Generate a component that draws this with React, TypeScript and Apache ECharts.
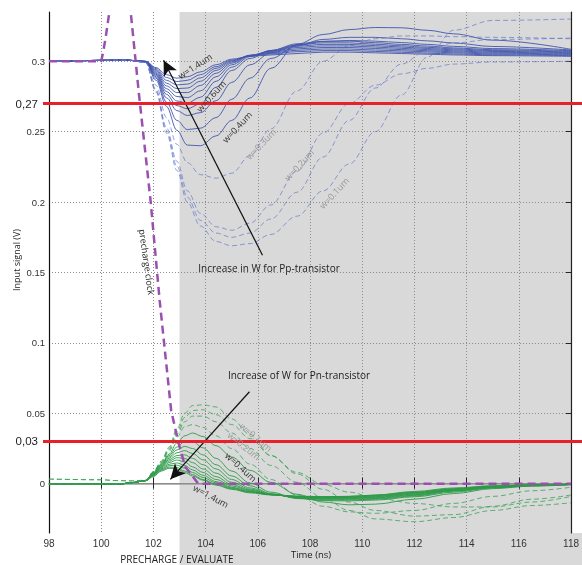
import React, { useEffect, useRef } from "react";
import * as echarts from "echarts";

// ---------- data ----------
const xMin = 98;
const xMax = 118;
const yMin = -0.035;
const yMax = 0.335;
const yTicks = [0, 0.05, 0.1, 0.15, 0.2, 0.25, 0.3];
const thresholds = [0.27, 0.03];
const thresholdLabels = ["0,27", "0,03"];
const evaluateStart = 103;

// precharge clock
const tClock = [98, 100, 100.08, 100.18, 100.32, 100.55, 101.0, 101.13, 101.45, 101.89, 102.24, 102.68, 102.96, 103.22, 103.72, 118];
const vClock = [0.3, 0.3, 0.307, 0.318, 0.336, 0.37, 0.357, 0.335, 0.276, 0.2013, 0.13, 0.052, 0.029, 0.012, 0, 0];

// Pp-transistor (blue) responses
const tB = [98, 101, 101.7, 102.1, 102.5, 102.9, 103.3, 103.8, 104.4, 105, 105.7, 106.5, 107.5, 108.5, 109.5, 110.5, 111.5, 112.5, 113.5, 115, 118];
const pp14 = [0.3, 0.3008, 0.3, 0.2955, 0.2905, 0.288, 0.289, 0.2925, 0.2975, 0.3015, 0.3035, 0.3045, 0.3055, 0.3065, 0.3065, 0.306, 0.3055, 0.305, 0.3045, 0.304, 0.3035];
const pp13 = [0.3, 0.3008, 0.3, 0.2948, 0.2885, 0.2856, 0.2865, 0.2905, 0.2962, 0.3008, 0.3038, 0.3052, 0.3068, 0.3076, 0.3076, 0.307, 0.3064, 0.3058, 0.3052, 0.3046, 0.304];
const pp12 = [0.3, 0.3008, 0.2999, 0.294, 0.2865, 0.2832, 0.2838, 0.2882, 0.295, 0.3002, 0.304, 0.3058, 0.3078, 0.3087, 0.3087, 0.308, 0.3074, 0.3067, 0.306, 0.3052, 0.3045];
const pp11 = [0.3, 0.3008, 0.2999, 0.2932, 0.2845, 0.2806, 0.281, 0.2858, 0.2935, 0.2995, 0.3042, 0.3064, 0.3088, 0.3098, 0.3098, 0.3091, 0.3083, 0.3075, 0.3067, 0.3058, 0.305];
const pp10 = [0.3, 0.3008, 0.2998, 0.2924, 0.2825, 0.2778, 0.2778, 0.2828, 0.2915, 0.2987, 0.3043, 0.3069, 0.3098, 0.3109, 0.3109, 0.3101, 0.3092, 0.3083, 0.3074, 0.3064, 0.3055];
const pp09 = [0.3, 0.3008, 0.2998, 0.2916, 0.2805, 0.275, 0.2742, 0.279, 0.289, 0.2975, 0.304, 0.3073, 0.3107, 0.312, 0.312, 0.3111, 0.3101, 0.3091, 0.3081, 0.307, 0.306];
const pp08 = [0.3, 0.3008, 0.2997, 0.2908, 0.2785, 0.2718, 0.2703, 0.2745, 0.2858, 0.2958, 0.3033, 0.3076, 0.3116, 0.3131, 0.3131, 0.3121, 0.311, 0.3099, 0.3088, 0.3076, 0.3065];
const pp07 = [0.3, 0.3008, 0.2997, 0.29, 0.2765, 0.2685, 0.2663, 0.2698, 0.2815, 0.2935, 0.302, 0.3077, 0.3124, 0.3142, 0.3143, 0.3132, 0.312, 0.3108, 0.3095, 0.3082, 0.307];
const pp06 = [0.3, 0.3008, 0.2996, 0.289, 0.274, 0.265, 0.2615, 0.2635, 0.272, 0.285, 0.2975, 0.306, 0.3115, 0.314, 0.3148, 0.3143, 0.3133, 0.312, 0.3106, 0.309, 0.3075];
const pp05 = [0.3, 0.3008, 0.2995, 0.288, 0.271, 0.258, 0.2515, 0.2525, 0.26, 0.273, 0.288, 0.302, 0.311, 0.3155, 0.317, 0.317, 0.316, 0.3145, 0.313, 0.3105, 0.308];
const pp04 = [0.3, 0.3008, 0.2994, 0.2865, 0.268, 0.251, 0.2405, 0.24, 0.247, 0.258, 0.274, 0.295, 0.312, 0.319, 0.3225, 0.324, 0.3238, 0.322, 0.3195, 0.315, 0.3085];
const pp03 = [0.3, 0.3008, 0.2993, 0.283, 0.26, 0.241, 0.228, 0.2195, 0.217, 0.2205, 0.233, 0.252, 0.279, 0.3, 0.311, 0.316, 0.318, 0.318, 0.3175, 0.317, 0.316];
const pp02 = [0.3, 0.3008, 0.2992, 0.28, 0.253, 0.229, 0.208, 0.192, 0.1825, 0.18, 0.185, 0.198, 0.222, 0.249, 0.27, 0.283, 0.291, 0.295, 0.298, 0.2995, 0.3];
const pp015 = [0.3, 0.3008, 0.2992, 0.279, 0.251, 0.2255, 0.2035, 0.187, 0.178, 0.175, 0.178, 0.188, 0.207, 0.232, 0.258, 0.281, 0.298, 0.308, 0.313, 0.3155, 0.3165];
const pp01 = [0.3, 0.3008, 0.2992, 0.278, 0.249, 0.2225, 0.2, 0.183, 0.172, 0.169, 0.1705, 0.177, 0.19, 0.208, 0.227, 0.25, 0.276, 0.303, 0.322, 0.329, 0.33];

// Pn-transistor (green) responses
const tG = [98, 100, 100.6, 101.2, 101.7, 102, 102.3, 102.6, 102.9, 103.2, 103.5, 103.9, 104.4, 105, 105.7, 106.5, 107.5, 108.5, 109.5, 110.5, 112, 113.5, 115, 116.5, 118];
const pn14 = [0, 0, -0.0005, 0.0008, 0.0022, 0.005, 0.009, 0.011, 0.0105, 0.008, 0.0055, 0.0025, -0.001, -0.004, -0.0065, -0.008, -0.009, -0.0092, -0.009, -0.008, -0.0055, -0.003, -0.0015, -0.0008, -0.0003];
const pn13 = [0, 0, -0.0005, 0.0008, 0.0022, 0.0055, 0.0095, 0.0118, 0.0115, 0.009, 0.0065, 0.003, -0.0005, -0.0035, -0.006, -0.0078, -0.0088, -0.0092, -0.009, -0.0082, -0.006, -0.0035, -0.0015, -0.0008, -0.0003];
const pn12 = [0, 0, -0.0005, 0.0008, 0.0022, 0.006, 0.01, 0.0128, 0.0132, 0.011, 0.008, 0.0045, 0.0005, -0.003, -0.0058, -0.0078, -0.009, -0.0095, -0.0093, -0.0085, -0.0063, -0.0038, -0.0018, -0.0009, -0.0004];
const pn11 = [0, 0, -0.0005, 0.0008, 0.0022, 0.0062, 0.0105, 0.0138, 0.0148, 0.013, 0.0098, 0.006, 0.0015, -0.0025, -0.0055, -0.0078, -0.0092, -0.0098, -0.0096, -0.0088, -0.0066, -0.004, -0.002, -0.001, -0.0004];
const pn10 = [0, 0, -0.0005, 0.0008, 0.0022, 0.0065, 0.011, 0.015, 0.0168, 0.0155, 0.012, 0.008, 0.003, -0.0015, -0.005, -0.0077, -0.0094, -0.01, -0.0099, -0.0092, -0.007, -0.0042, -0.002, -0.001, -0.0004];
const pn09 = [0, 0, -0.0005, 0.0008, 0.0022, 0.0068, 0.0115, 0.016, 0.0185, 0.018, 0.015, 0.0105, 0.005, -0.0005, -0.0045, -0.0076, -0.0096, -0.0103, -0.0102, -0.0096, -0.0074, -0.0045, -0.0022, -0.0011, -0.0005];
const pn08 = [0, 0, -0.0005, 0.0008, 0.0022, 0.007, 0.012, 0.017, 0.02, 0.0205, 0.018, 0.0135, 0.0075, 0.001, -0.0038, -0.0075, -0.0098, -0.0107, -0.0106, -0.01, -0.0078, -0.0048, -0.0024, -0.0012, -0.0005];
const pn07 = [0, 0, -0.0005, 0.0008, 0.0022, 0.0072, 0.0125, 0.018, 0.022, 0.0235, 0.0215, 0.017, 0.0105, 0.003, -0.003, -0.0073, -0.01, -0.011, -0.011, -0.0105, -0.0082, -0.005, -0.0026, -0.0013, -0.0005];
const pn06 = [0, 0, -0.0005, 0.0008, 0.0022, 0.0075, 0.013, 0.019, 0.024, 0.0265, 0.025, 0.0205, 0.0135, 0.0055, -0.0015, -0.007, -0.0102, -0.0115, -0.0115, -0.011, -0.0087, -0.0053, -0.0028, -0.0014, -0.0006];
const pn05 = [0, 0, -0.0005, 0.0008, 0.0022, 0.0078, 0.0135, 0.02, 0.026, 0.03, 0.03, 0.0255, 0.018, 0.009, 0.0005, -0.006, -0.0105, -0.012, -0.0122, -0.0116, -0.0093, -0.006, -0.003, -0.0015, -0.0006];
const pn04 = [0, 0, -0.0005, 0.0008, 0.0022, 0.008, 0.014, 0.021, 0.029, 0.034, 0.036, 0.0335, 0.027, 0.019, 0.0095, 0.001, -0.0075, -0.013, -0.015, -0.0145, -0.011, -0.007, -0.0035, -0.0017, -0.0007];
const pn03 = [0, 0, -0.0005, 0.0008, 0.0022, 0.008, 0.0145, 0.023, 0.033, 0.0405, 0.042, 0.04, 0.034, 0.025, 0.014, 0.003, -0.008, -0.016, -0.02, -0.021, -0.019, -0.014, -0.009, -0.005, -0.0025];
const pn02 = [0, 0, -0.0005, 0.0008, 0.0022, 0.0082, 0.015, 0.024, 0.035, 0.044, 0.048, 0.048, 0.044, 0.036, 0.025, 0.013, 0.001, -0.01, -0.019, -0.025, -0.027, -0.024, -0.019, -0.0155, -0.0135];
const pn015 = [0.0033, 0.0028, 0.0022, 0.002, 0.0025, 0.0084, 0.0155, 0.025, 0.037, 0.047, 0.052, 0.0525, 0.049, 0.042, 0.032, 0.02, 0.007, -0.004, -0.013, -0.019, -0.023, -0.022, -0.016, -0.011, -0.008];
const pn01 = [0.0033, 0.0028, 0.0022, 0.002, 0.0025, 0.0085, 0.016, 0.026, 0.039, 0.05, 0.0555, 0.056, 0.0545, 0.046, 0.035, 0.02, 0.008, -0.0005, -0.006, -0.01, -0.014, -0.0165, -0.0165, -0.013, -0.009];

// arrows (data coordinates: start -> tip)
const ppArrow = [[106.18, 0.1623], [102.39, 0.3007]];
const pnArrow = [[105.68, 0.0653], [102.65, 0.0031]];

export default function App() {
  const ref = useRef<HTMLDivElement>(null);
  useEffect(() => {
    const chart = echarts.init(ref.current!, null, { renderer: "svg" });
    const zip = (t: number[], v: number[]) => t.map((x, i) => [x, v[i]]);
    const blueSolid = [pp14, pp13, pp12, pp11, pp10, pp09, pp08, pp07, pp06, pp05, pp04];
    const blueDashed = [pp03, pp02, pp015, pp01];
    const greenSolid = [pn14, pn13, pn12, pn11, pn10, pn09, pn08, pn07, pn06, pn05, pn04];
    const greenDashed = [pn03, pn02, pn015, pn01];
    const gridStyle = { type: [1, 2], color: "#8c8c8c", width: 1 };
    const series: any[] = [];
    series.push({
      type: "line", data: [[xMin, 0]], z: 2, silent: true, symbol: "none", lineStyle: { opacity: 0 },
      markLine: {
        silent: true, z: 2, symbol: "none", label: { show: false },
        lineStyle: gridStyle,
        data: yTicks.map((v) => ({ yAxis: v })),
      },
    });
    const curve = (t: number[], v: number[], color: string, dashed: boolean) => ({
      type: "line", data: zip(t, v), z: 3, silent: true, symbol: "none", smooth: 0.35, smoothMonotone: "x",
      lineStyle: { color, width: 0.9, type: dashed ? [5, 3] : "solid" },
    });
    blueSolid.forEach((v) => series.push(curve(tB, v, "#4256ad", false)));
    blueDashed.forEach((v) => series.push(curve(tB, v, "rgba(95,115,205,0.75)", true)));
    greenSolid.forEach((v) => series.push(curve(tG, v, "#2c9a47", false)));
    greenDashed.forEach((v) => series.push(curve(tG, v, "rgba(50,160,80,0.85)", true)));
    series.push({
      type: "line", data: zip(tClock, vClock), z: 4, silent: true, symbol: "none",
      lineStyle: { color: "#9b4fae", width: 2.5, type: [8, 5] },
    });
    series.push({
      type: "line", data: [[xMin, 0]], z: 7, silent: true, symbol: "none", lineStyle: { opacity: 0 },
      markLine: {
        silent: true, z: 7, symbol: ["none", "arrow"], symbolSize: [11, 15], label: { show: false },
        lineStyle: { color: "#111", width: 1.2, type: "solid" },
        data: [
          [{ coord: ppArrow[0] }, { coord: ppArrow[1] }],
          [{ coord: pnArrow[0] }, { coord: pnArrow[1] }],
        ],
      },
    });

    const option: any = {
      animation: false,
      grid: { left: 49, top: 12, right: 5, bottom: 32, containLabel: false },
      xAxis: [
        {
          type: "value", position: "bottom", min: xMin, max: xMax, interval: 2, z: 2,
          axisLine: { lineStyle: { color: "#555", width: 1 } },
          axisTick: { inside: true, length: 6, lineStyle: { color: "#222" } },
          axisLabel: { fontSize: 10, color: "#333", margin: 5, fontFamily: "Liberation Sans" },
          splitLine: { show: true, lineStyle: gridStyle },
        },
        {
          type: "value", position: "top", min: xMin, max: xMax, interval: 2, z: 2,
          axisLine: { lineStyle: { color: "#a0a0a0", width: 1.5 } },
          axisTick: { inside: true, length: 5, lineStyle: { color: "#222" } },
          axisLabel: { show: false }, splitLine: { show: false },
        },
      ],
      yAxis: [
        {
          type: "value", position: "left", min: yMin, max: yMax, z: 2,
          axisLine: { lineStyle: { color: "#111", width: 1.2 } },
          axisTick: { show: false },
          axisLabel: { customValues: yTicks, fontSize: 9.5, color: "#333", margin: 4, fontFamily: "Liberation Sans" },
          splitLine: { show: false },
        },
        {
          type: "value", position: "right", min: yMin, max: yMax, z: 2,
          axisLine: { lineStyle: { color: "#222", width: 1.2 } },
          axisTick: { inside: true, length: 5, customValues: yTicks, lineStyle: { color: "#222" } },
          axisLabel: { show: false }, splitLine: { show: false },
        },
      ],
      series,
    };
    chart.setOption(option);

    const px = (t: number, v: number) => chart.convertToPixel({ gridIndex: 0 }, [t, v]) as number[];
    const [xShade, yTop] = px(evaluateStart, yMax);
    const [xRight, yBottom] = px(xMax, yMin);
    const txt = (text: string, x: number, y: number, opts: any = {}) => ({
      type: "text", x, y, rotation: opts.rot || 0, z: 10, silent: true,
      style: {
        text, fill: opts.fill || "#222", fontSize: opts.size || 10,
        fontFamily: opts.family || "Open Sans", align: opts.align || "center", verticalAlign: "middle",
      },
    });
    const deg = Math.PI / 180;
    const graphics: any[] = [
      { type: "rect", z: -10, silent: true, shape: { x: xShade, y: yTop, width: xRight - xShade, height: yBottom - yTop }, style: { fill: "#d9d9d9" } },
      { type: "rect", z: -10, silent: true, shape: { x: xShade, y: yBottom, width: 582 - xShade, height: 565 - yBottom }, style: { fill: "#d9d9d9" } },
    ];
    thresholds.forEach((v, i) => {
      const y = px(xMin, v)[1];
      graphics.push({ type: "line", z: 8, silent: true, shape: { x1: 43, y1: y, x2: 582, y2: y }, style: { stroke: "#e8202a", lineWidth: 3 } });
      graphics.push(txt(thresholdLabels[i], 38, y, { align: "right", size: 11.5, family: "Liberation Sans" }));
    });
    graphics.push(txt("Input signal (V)", 16, 260, { rot: 90 * deg, size: 9 }));
    graphics.push(txt("Time (ns)", 311, 554, { size: 9.5 }));
    graphics.push(txt("PRECHARGE / EVALUATE", 177, 559, { size: 10 }));
    graphics.push(txt("precharge clock", 147, 262, { rot: -82 * deg, size: 9 }));
    graphics.push(txt("Increase in W for Pp-transistor", 269, 268, { size: 10 }));
    graphics.push(txt("Increase of W for Pn-transistor", 299, 375, { size: 10 }));
    // blue labels
    graphics.push(txt("w=1.4um", 195, 66, { rot: 33 * deg, size: 9, fill: "#333" }));
    graphics.push(txt("w=0.6um", 211, 96, { rot: 48 * deg, size: 9, fill: "#333" }));
    graphics.push(txt("w=0.4um", 237, 127, { rot: 47 * deg, size: 9, fill: "#333" }));
    graphics.push(txt("w=0.3um", 261, 144, { rot: 46 * deg, size: 9, fill: "#999" }));
    graphics.push(txt("w=0.2um", 299, 165, { rot: 47 * deg, size: 9, fill: "#999" }));
    graphics.push(txt("w=0.1um", 334, 193, { rot: 47 * deg, size: 9, fill: "#999" }));
    // green labels
    graphics.push(txt("w=0.1um", 256, 437, { rot: -40 * deg, size: 9, fill: "#999" }));
    graphics.push(txt("w=0.2um", 244, 446, { rot: -38 * deg, size: 9, fill: "#999" }));
    graphics.push(txt("w=0.4um", 241, 467, { rot: -42 * deg, size: 9, fill: "#333" }));
    graphics.push(txt("w=1.4um", 211, 496, { rot: -28 * deg, size: 9, fill: "#333" }));
    chart.setOption({ graphic: graphics });

    return () => chart.dispose();
  }, []);
  return <div ref={ref} style={{ position: "fixed", left: 0, top: 0, width: 582, height: 565 }} />;
}
